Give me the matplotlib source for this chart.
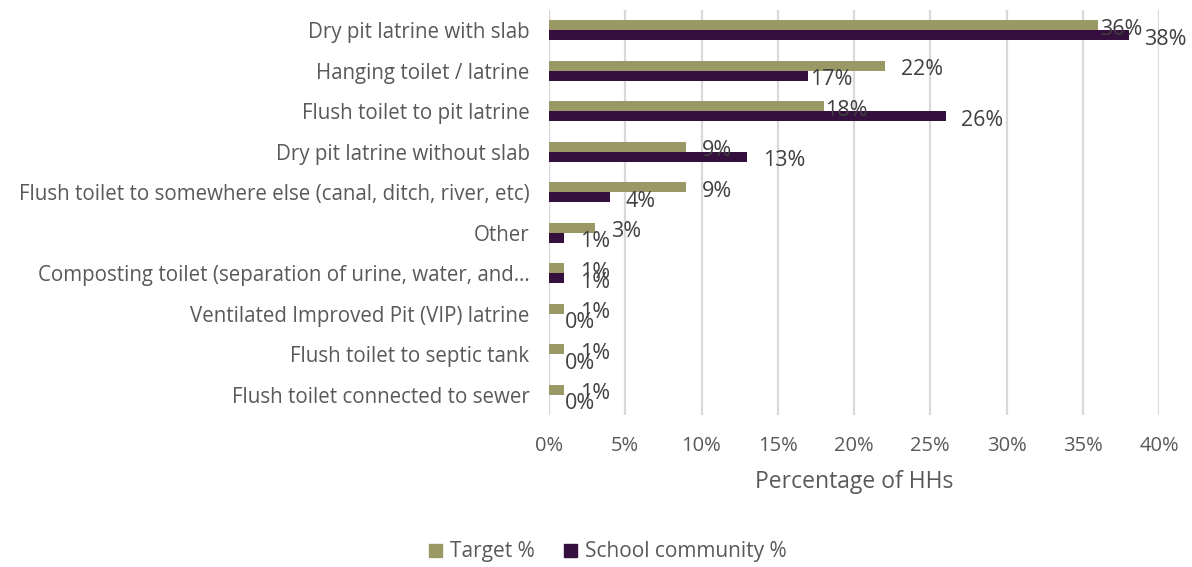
import matplotlib.pyplot as plt
import matplotlib.transforms as mtransforms
from matplotlib.patches import Patch

categories = [
    "Dry pit latrine with slab",
    "Hanging toilet / latrine",
    "Flush toilet to pit latrine",
    "Dry pit latrine without slab",
    "Flush toilet to somewhere else (canal, ditch, river, etc)",
    "Other",
    "Composting toilet (separation of urine, water, and\u2026",
    "Ventilated Improved Pit (VIP) latrine",
    "Flush toilet to septic tank",
    "Flush toilet connected to sewer",
]
target = [36, 22, 18, 9, 9, 3, 1, 1, 1, 1]
school = [38, 17, 26, 13, 4, 1, 1, 0, 0, 0]
ticks = [0, 5, 10, 15, 20, 25, 30, 35, 40]

OLIVE = "#9a9966"
PURPLE = "#35103f"
TEXT = "#595959"
GRID = "#d9d9d9"

plt.rcParams["font.family"] = ["Open Sans", "DejaVu Sans"]

fig = plt.figure(figsize=(11.92, 5.67), dpi=100)
ax = fig.add_axes([549 / 1192, 1 - 415 / 567, 610 / 1192, 405 / 567])

h = 0.25
ys = list(range(len(categories)))
ax.barh([y - h / 2 for y in ys], target, height=h, color=OLIVE, label="Target %")
ax.barh([y + h / 2 for y in ys], school, height=h, color=PURPLE, label="School community %")

ax.set_xlim(0, 40)
ax.set_ylim(len(categories) - 0.5, -0.5)
ax.set_xticks(ticks)
ax.set_xticklabels([f"{t}%" for t in ticks])
ax.set_yticks(ys)
ax.set_yticklabels(categories)
ax.tick_params(axis="both", length=0, colors=TEXT)
ax.tick_params(axis="x", pad=15, labelsize=14.5)
ax.tick_params(axis="y", pad=14, labelsize=14.8)
ax.xaxis.grid(True, color=GRID, linewidth=1.6)
ax.set_axisbelow(True)
for s in ax.spines.values():
    s.set_visible(False)
ax.axvline(0, color=GRID, linewidth=1.6, zorder=0)
ax.set_xlabel("Percentage of HHs", color=TEXT, fontsize=16.5, labelpad=10)

# value labels: mostly nudged right of the bar end, a few sit tight against it
tight = {("t", 0), ("s", 1), ("t", 2)}
for i, (tv, sv) in enumerate(zip(target, school)):
    for key, v, y in (("t", tv, i - h / 2), ("s", sv, i + h / 2)):
        dx = 2 if (key, i) in tight else 16
        tr = ax.transData + mtransforms.ScaledTranslation(dx / 100, -4 / 100, fig.dpi_scale_trans)
        ax.text(v, y, f"{v}%", transform=tr, ha="left", va="center",
                color="#404040", fontsize=15.5)

handles = [Patch(color=OLIVE, label="Target %"), Patch(color=PURPLE, label="School community %")]
fig.legend(handles=handles, loc="center", bbox_to_anchor=(608 / 1192, 1 - 552 / 567),
           ncol=2, frameon=False, fontsize=15, labelcolor=TEXT,
           handlelength=0.6, handleheight=0.6, handletextpad=0.4, columnspacing=1.4)

fig.savefig("out.png", dpi=100)
